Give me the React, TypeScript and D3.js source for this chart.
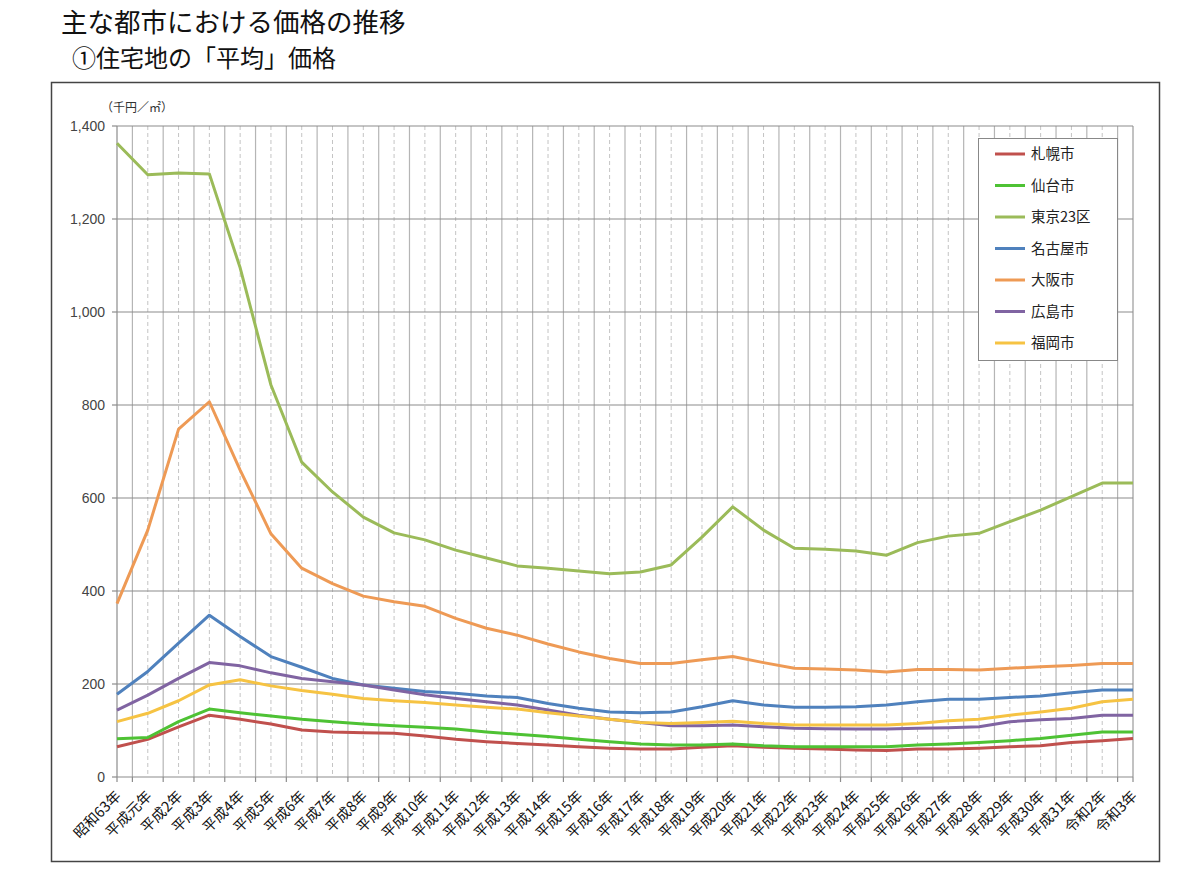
import React from "react";
import * as d3 from "d3";

const categories = [
  "昭和63年", "平成元年", "平成2年", "平成3年", "平成4年", "平成5年", "平成6年", "平成7年",
  "平成8年", "平成9年", "平成10年", "平成11年", "平成12年", "平成13年", "平成14年", "平成15年",
  "平成16年", "平成17年", "平成18年", "平成19年", "平成20年", "平成21年", "平成22年", "平成23年",
  "平成24年", "平成25年", "平成26年", "平成27年", "平成28年", "平成29年", "平成30年", "平成31年",
  "令和2年", "令和3年",
];

const sapporo = [65, 81, 108, 133, 124, 114, 101, 97, 95, 94, 88, 81, 76, 72, 69, 65, 62, 60, 60, 64, 67, 64, 62, 60, 58, 57, 60, 60, 62, 65, 67, 74, 78, 83];
const sendai = [82, 85, 119, 146, 138, 131, 124, 119, 114, 110, 107, 103, 97, 92, 87, 81, 76, 71, 69, 69, 71, 67, 65, 65, 65, 65, 69, 71, 74, 78, 83, 90, 97, 97];
const tokyo = [1363, 1295, 1299, 1297, 1095, 843, 677, 613, 559, 525, 510, 488, 471, 454, 449, 443, 437, 441, 456, 516, 581, 531, 492, 490, 486, 477, 504, 518, 524, 549, 574, 603, 632, 632];
const nagoya = [178, 227, 288, 348, 302, 259, 236, 212, 198, 191, 184, 180, 174, 171, 158, 148, 140, 138, 140, 151, 164, 155, 150, 150, 151, 155, 162, 167, 167, 171, 174, 181, 187, 187];
const osaka = [373, 531, 748, 807, 660, 523, 449, 416, 389, 377, 367, 341, 320, 305, 286, 269, 255, 244, 244, 252, 259, 246, 234, 232, 230, 226, 231, 231, 230, 234, 237, 240, 244, 244];
const hiroshima = [144, 176, 212, 246, 239, 224, 212, 205, 198, 187, 177, 169, 162, 155, 144, 133, 124, 117, 110, 110, 112, 108, 105, 104, 103, 103, 105, 106, 108, 119, 123, 126, 133, 133];
const fukuoka = [119, 137, 164, 198, 209, 196, 186, 178, 169, 164, 160, 155, 150, 146, 138, 131, 124, 117, 115, 117, 120, 115, 112, 112, 112, 112, 115, 121, 124, 133, 140, 148, 162, 167];

const seriesNames = ["札幌市", "仙台市", "東京23区", "名古屋市", "大阪市", "広島市", "福岡市"];
const seriesValues = [sapporo, sendai, tokyo, nagoya, osaka, hiroshima, fukuoka];
const seriesColors = ["#C0504D", "#4EC234", "#9BBB59", "#4F81BD", "#EE9A55", "#8064A2", "#F6C343"];

const yTicks = [0, 200, 400, 600, 800, 1000, 1200, 1400];

const FONT = "'Noto Sans CJK JP', 'Noto Sans', sans-serif";

export default function App() {
  const W = 1200, H = 881;
  const left = 117, right = 1133, top = 126, bottom = 777;
  const x = d3.scaleLinear().domain([0, categories.length - 1]).range([left, right]);
  const y = d3.scaleLinear().domain([0, 1400]).range([bottom, top]);
  const line = d3.line<number>().x((_, i) => x(i)).y((v) => y(v));
  const step = x(1) - x(0);

  const midLines = d3.range(categories.length - 1).map((i) => x(i) + step / 2);

  return (
    <svg width={W} height={H} style={{ position: "absolute", left: 0, top: 0, background: "#fff" }} fontFamily={FONT}>
      <rect x={0} y={0} width={W} height={H} fill="#fff" />
      <text x={61} y={32} fontSize={26.5} fill="#111">主な都市における価格の推移</text>
      <text x={72} y={67} fontSize={24} fill="#111">①住宅地の「平均」価格</text>

      {/* outer box */}
      <rect x={51.5} y={82.5} width={1108} height={779} fill="#fff" stroke="#444" strokeWidth={1.5} />

      <text x={101} y={112} fontSize={12} fill="#333">（千円／㎡）</text>

      {/* vertical grid: solid at boundaries, dashed at categories */}
      {midLines.map((mx, i) => (
        <line key={"m" + i} x1={mx} x2={mx} y1={top} y2={bottom} stroke="#b5b5b5" strokeWidth={1.2} />
      ))}
      {categories.map((_, i) =>
        i === 0 || i === categories.length - 1 ? null : (
          <line key={"d" + i} x1={x(i)} x2={x(i)} y1={top} y2={bottom} stroke="#c4c4c4" strokeWidth={1} strokeDasharray="4,3" />
        )
      )}
      <line x1={right} x2={right} y1={top} y2={bottom} stroke="#999" strokeWidth={1.2} />

      {/* horizontal grid */}
      {yTicks.map((t) => (
        <g key={"y" + t}>
          <line x1={left} x2={right} y1={y(t)} y2={y(t)} stroke="#8c8c8c" strokeWidth={1.2} />
          <line x1={left - 5} x2={left} y1={y(t)} y2={y(t)} stroke="#8c8c8c" strokeWidth={1.2} />
          <text x={left - 12} y={y(t)} dy="0.35em" textAnchor="end" fontSize={14} fill="#444" fontFamily="'Liberation Sans', Arial, sans-serif">
            {d3.format(",")(t)}
          </text>
        </g>
      ))}
      <line x1={left} x2={left} y1={top} y2={bottom} stroke="#8c8c8c" strokeWidth={1.2} />
      {midLines.concat([left, right]).map((mx, i) => (
        <line key={"t" + i} x1={mx} x2={mx} y1={bottom} y2={bottom + 5} stroke="#8c8c8c" strokeWidth={1.2} />
      ))}

      {/* x labels */}
      {categories.map((c, i) => (
        <text
          key={"x" + i}
          transform={`translate(${x(i) + 5},${bottom + 20}) rotate(-45)`}
          textAnchor="end"
          fontSize={14.5}
          fill="#111"
        >
          {c}
        </text>
      ))}

      {/* series lines */}
      {seriesValues.map((vals, k) => (
        <path key={"s" + k} d={line(vals) || ""} fill="none" stroke={seriesColors[k]} strokeWidth={3} strokeLinejoin="round" />
      ))}

      {/* legend */}
      <rect x={978.5} y={138.5} width={139} height={222} fill="#fff" stroke="#888" strokeWidth={1} />
      {seriesNames.map((n, k) => {
        const ly = 154 + k * 31.5;
        return (
          <g key={"l" + k}>
            <line x1={995} x2={1025} y1={ly} y2={ly} stroke={seriesColors[k]} strokeWidth={3} />
            <text x={1031} y={ly} dy="0.36em" fontSize={14.5} fill="#222">{n}</text>
          </g>
        );
      })}
    </svg>
  );
}
